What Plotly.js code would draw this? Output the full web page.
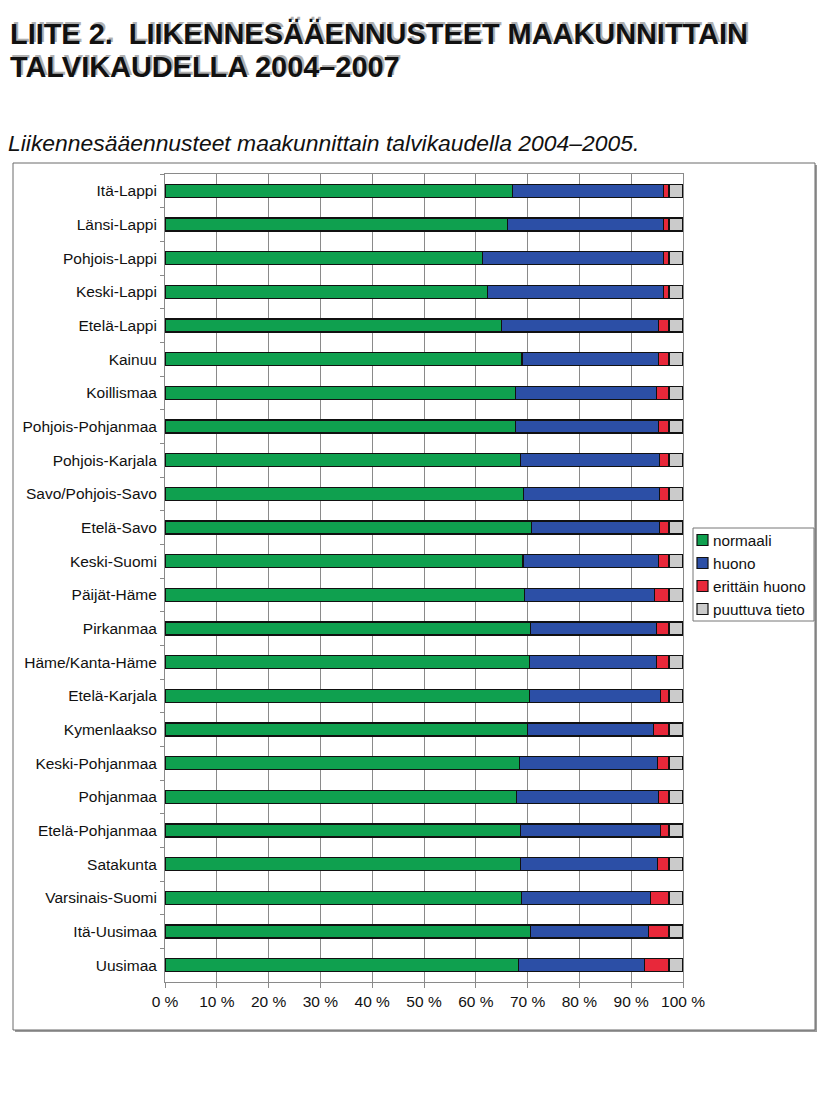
<!DOCTYPE html>
<html>
<head>
<meta charset="utf-8">
<script src="https://cdn.plot.ly/plotly-3.0.1.min.js"></script>
<style>
html,body{margin:0;padding:0;background:#fff;}
#chart{width:828px;height:1098px;}
</style>
</head>
<body>
<div id="chart"></div>
<script>
const categories = ["Itä-Lappi","Länsi-Lappi","Pohjois-Lappi","Keski-Lappi","Etelä-Lappi","Kainuu","Koillismaa","Pohjois-Pohjanmaa","Pohjois-Karjala","Savo/Pohjois-Savo","Etelä-Savo","Keski-Suomi","Päijät-Häme","Pirkanmaa","Häme/Kanta-Häme","Etelä-Karjala","Kymenlaakso","Keski-Pohjanmaa","Pohjanmaa","Etelä-Pohjanmaa","Satakunta","Varsinais-Suomi","Itä-Uusimaa","Uusimaa"];
const normaali = [67.1,66.1,61.3,62.2,65.0,68.9,67.6,67.6,68.6,69.2,70.7,69.1,69.4,70.6,70.3,70.3,70.0,68.5,67.9,68.7,68.6,68.8,70.6,68.2];
const huono    = [29.2,30.2,35.0,34.1,30.2,26.3,27.3,27.6,26.8,26.3,24.7,26.1,25.1,24.3,24.6,25.4,24.3,26.5,27.4,26.9,26.4,25.0,22.8,24.3];
const erittainHuono = [1.0,1.0,1.0,1.0,2.1,2.1,2.4,2.1,1.9,1.8,1.9,2.1,2.8,2.4,2.4,1.6,3.0,2.3,2.0,1.7,2.3,3.5,3.9,4.8];
const puuttuvaTieto = [2.7,2.7,2.7,2.7,2.7,2.7,2.7,2.7,2.7,2.7,2.7,2.7,2.7,2.7,2.7,2.7,2.7,2.7,2.7,2.7,2.7,2.7,2.7,2.7];
const seriesNames = ["normaali","huono","erittäin huono","puuttuva tieto"];
const xTickVals = [0,10,20,30,40,50,60,70,80,90,100];
const xTickText = ["0 %","10 %","20 %","30 %","40 %","50 %","60 %","70 %","80 %","90 %","100 %"];

const colors = ["#0fa04f","#2c4fa6","#e8283a","#cbcbcb"];
const seriesData = [normaali, huono, erittainHuono, puuttuvaTieto];
const FONT = "Liberation Sans, Arial, sans-serif";

// plot area in pixels
const L = 165, R = 683, T = 174, B = 982;
const PW = R - L, PH = B - T;
const px = x => (x - L) / PW;
const py = y => (B - y) / PH;

const traces = seriesData.map((vals, i) => ({
  type: "bar",
  orientation: "h",
  name: seriesNames[i],
  y: categories,
  x: vals,
  width: 0.39,
  marker: {color: colors[i], line: {color: "#111", width: 1.2}},
  showlegend: false,
  hoverinfo: "x+y+name"
}));

const shapes = [
  {type: "rect", xref: "paper", yref: "paper", layer: "below",
   x0: px(15), x1: px(817), y0: py(1032), y1: py(165),
   line: {width: 0}, fillcolor: "#9a9a9a"},
  {type: "rect", xref: "paper", yref: "paper", layer: "below",
   x0: px(13), x1: px(815), y0: py(1030), y1: py(163),
   line: {color: "#6a6a6a", width: 1}, fillcolor: "#ffffff"},
  // legend box
  {type: "rect", xref: "paper", yref: "paper",
   x0: px(693), x1: px(814), y0: py(621), y1: py(528),
   line: {color: "#777", width: 1}, fillcolor: "#ffffff"}
];
const annotations = [
  {xref: "paper", yref: "paper", x: px(10), y: py(32), xanchor: "left", yanchor: "middle",
   text: "LIITE 2.  LIIKENNESÄÄENNUSTEET MAAKUNNITTAIN", showarrow: false,
   font: {family: FONT, size: 28.9, color: "#b0b0b0", weight: "bold"}},
  {xref: "paper", yref: "paper", x: px(8), y: py(34), xanchor: "left", yanchor: "middle",
   text: "LIITE 2.  LIIKENNESÄÄENNUSTEET MAAKUNNITTAIN", showarrow: false,
   font: {family: FONT, size: 28.9, color: "#111", weight: "bold"}},
  {xref: "paper", yref: "paper", x: px(10), y: py(65), xanchor: "left", yanchor: "middle",
   text: "TALVIKAUDELLA 2004–2007", showarrow: false,
   font: {family: FONT, size: 28.9, color: "#b0b0b0", weight: "bold"}},
  {xref: "paper", yref: "paper", x: px(8), y: py(67), xanchor: "left", yanchor: "middle",
   text: "TALVIKAUDELLA 2004–2007", showarrow: false,
   font: {family: FONT, size: 28.9, color: "#111", weight: "bold"}},
  {xref: "paper", yref: "paper", x: px(6), y: py(143), xanchor: "left", yanchor: "middle",
   text: "<i>Liikennesääennusteet maakunnittain talvikaudella 2004–2005.</i>", showarrow: false,
   font: {family: FONT, size: 22.9, color: "#111"}}
];
// custom legend entries
seriesNames.forEach((name, i) => {
  const cy = 540 + i * 23;
  shapes.push({type: "rect", xref: "paper", yref: "paper",
    x0: px(697), x1: px(708), y0: py(cy + 5.5), y1: py(cy - 5.5),
    line: {color: "#111", width: 1.2}, fillcolor: colors[i]});
  annotations.push({xref: "paper", yref: "paper", x: px(711), y: py(cy),
    xanchor: "left", yanchor: "middle", text: name, showarrow: false,
    font: {family: FONT, size: 15.3, color: "#111"}});
});

const layout = {
  width: 828, height: 1098,
  paper_bgcolor: "#ffffff",
  plot_bgcolor: "#ffffff",
  barmode: "stack",
  bargap: 0.61,
  margin: {l: L, r: 828 - R, t: T, b: 1098 - B, pad: 0, autoexpand: false},
  showlegend: false,
  xaxis: {
    range: [0, 100],
    tickvals: xTickVals, ticktext: xTickText,
    showgrid: true, gridcolor: "#8a8a8a", gridwidth: 1,
    zeroline: false,
    showline: true, linecolor: "#8a8a8a", linewidth: 1, mirror: true,
    ticks: "outside", ticklen: 5, tickcolor: "#8a8a8a",
    tickfont: {family: FONT, size: 15.5, color: "#111"},
    fixedrange: true
  },
  yaxis: {
    type: "category",
    autorange: "reversed",
    showgrid: false,
    showline: true, linecolor: "#8a8a8a", linewidth: 1, mirror: true,
    ticks: "outside", ticklen: 4, tickcolor: "#8a8a8a",
    tickson: "boundaries",
    ticklabelstandoff: 4,
    tickfont: {family: FONT, size: 15.5, color: "#111"},
    fixedrange: true
  },
  shapes: shapes,
  annotations: annotations
};

Plotly.newPlot("chart", traces, layout, {staticPlot: true, displayModeBar: false});
</script>
</body>
</html>
